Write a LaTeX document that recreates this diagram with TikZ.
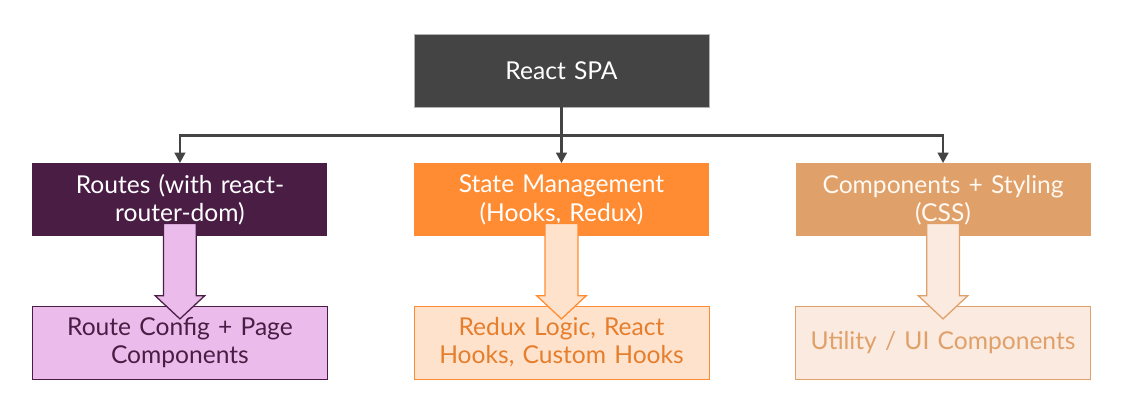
\documentclass[tikz,border=0pt]{standalone}
\usepackage{fontspec}
\setmainfont{Lato}
\usetikzlibrary{positioning, calc, arrows.meta}
\definecolor{spaDark}{HTML}{444444}
\definecolor{routePurple}{HTML}{4A1D45}
\definecolor{routeLight}{HTML}{EBBCEB}
\definecolor{stateOrange}{HTML}{FF8C32}
\definecolor{stateLight}{HTML}{FFE2CC}
\definecolor{compTan}{HTML}{E0A069}
\definecolor{compLight}{HTML}{FBEADF}
\tikzset{
    spaBox/.style={
        rectangle,
        minimum width=7.375cm,
        minimum height=1.825cm,
        text width=6.8cm,
        align=center,
        font=\fontsize{17.5}{20}\selectfont,
        inner sep=2pt
    },
    % upper layer
    topBox/.style={spaBox, fill=spaDark, text=white, draw=gray!60, very thin},
    routeBox/.style={spaBox, fill=routePurple, text=white},
    stateBox/.style={spaBox, fill=stateOrange, text=white},
    compBox/.style={spaBox, fill=compTan, text=white!95!orange},
    % lower layer
    routeSub/.style={spaBox, fill=routeLight, draw=routePurple, thin, text=routePurple},
    stateSub/.style={spaBox, fill=stateLight, draw=stateOrange, thin, text=stateOrange!90!black},
    compSub/.style={spaBox, fill=compLight, draw=compTan, thin, text=compTan},
    % connectors
    spaConn/.style={-{Triangle[length=0.26cm, width=0.26cm]}, line width=2pt, draw=spaDark},
    blockArrow/.style={line width=0.9pt, line join=miter}
}

\begin{document}
\begin{tikzpicture}[node distance=1.4cm and 2.15cm]
\useasboundingbox (-14.0375,1.7625) rectangle (14.0875,-8.6375);

\node[topBox] (spa) {React SPA};
\node[stateBox, below=1.4cm of spa] (state) {State Management\\(Hooks, Redux)};
\node[routeBox, left=of state] (routes) {Routes (with react-\\router-dom)};
\node[compBox, right=of state] (comps) {Components + Styling\\(CSS)};

\node[routeSub, below=1.725cm of routes] (routeCfg) {Route Config + Page\\Components};
\node[stateSub, below=1.725cm of state] (reduxLogic) {Redux Logic, React\\Hooks, Custom Hooks};
\node[compSub, below=1.725cm of comps] (utilUI) {Utility / UI Components};

\draw[line width=2pt, draw=spaDark] (spa.south) -- ++(0,-0.7) coordinate (hub);
\draw[spaConn] (hub) -| (routes.north);
\draw[spaConn] (hub) -- (state.north);
\draw[spaConn] (hub) -| (comps.north);

% hollow block arrows between layers
\draw[blockArrow, fill=routeLight, draw=routePurple]
  ($(routes.south)+(-0.41,0.33)$) |- ($(routeCfg.north)+(-0.62,0.25)$)
  -- ($(routeCfg.north)+(0,-0.33)$) -- ($(routeCfg.north)+(0.62,0.25)$)
  -| ($(routes.south)+(0.41,0.33)$) -- cycle;
\draw[blockArrow, fill=stateLight, draw=stateOrange]
  ($(state.south)+(-0.41,0.33)$) |- ($(reduxLogic.north)+(-0.62,0.25)$)
  -- ($(reduxLogic.north)+(0,-0.33)$) -- ($(reduxLogic.north)+(0.62,0.25)$)
  -| ($(state.south)+(0.41,0.33)$) -- cycle;
\draw[blockArrow, fill=compLight, draw=compTan]
  ($(comps.south)+(-0.41,0.33)$) |- ($(utilUI.north)+(-0.62,0.25)$)
  -- ($(utilUI.north)+(0,-0.33)$) -- ($(utilUI.north)+(0.62,0.25)$)
  -| ($(comps.south)+(0.41,0.33)$) -- cycle;
\end{tikzpicture}
\end{document}
